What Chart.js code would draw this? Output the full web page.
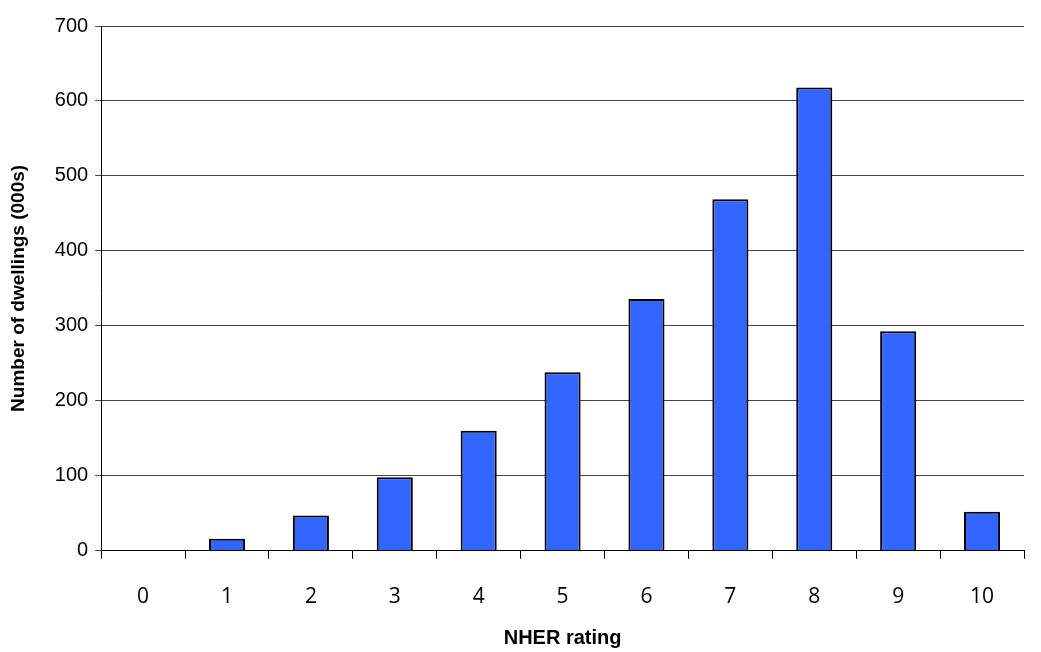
<!DOCTYPE html>
<html>
<head>
<meta charset="utf-8">
<script src="https://cdn.jsdelivr.net/npm/chart.js@4/dist/chart.umd.min.js"></script>
<style>
  html, body { margin: 0; padding: 0; background: #fff; }
  #wrap { width: 1041px; height: 652px; }
</style>
</head>
<body>
<div id="wrap"><canvas id="chartNher" width="1041" height="652"></canvas></div>
<script>
  /* NHER rating vs dwellings */
  var ratings = ['0', '1', '2', '3', '4', '5', '6', '7', '8', '9', '10'];
  var dwellings = [0, 16, 47, 98, 160, 238, 336, 469, 618, 293, 52];
  var yTicks = [0, 100, 200, 300, 400, 500, 600, 700];

  var ctx = document.getElementById('chartNher').getContext('2d');
  var chartNher = new Chart(ctx, {
    type: 'bar',
    data: {
      labels: ratings,
      datasets: [
        {
          data: dwellings,
          backgroundColor: '#3366ff',
          borderColor: '#000000',
          borderWidth: 2,
          borderSkipped: 'bottom',
          barPercentage: 0.43,
          categoryPercentage: 1,
        },
      ],
    },
    options: {
      responsive: false,
      animation: false,
      layout: { padding: { top: 26, right: 17, left: 4, bottom: 2 } },
      plugins: {
        legend: { display: false },
        tooltip: { enabled: false },
      },
      scales: {
        x: {
          offset: true,
          grid: {
            offset: true,
            drawOnChartArea: false,
            drawTicks: true,
            tickLength: 8,
            color: '#000',
          },
          border: { color: '#000', width: 1 },
          ticks: {
            color: '#000',
            font: { family: 'Open Sans', size: 21 },
            padding: 26,
          },
          title: {
            display: true,
            text: 'NHER rating',
            color: '#000',
            font: { family: 'Liberation Sans', size: 20, weight: 'bold' },
            padding: { top: -10, bottom: 0 },
          },
        },
        y: {
          min: 0,
          max: 700,
          afterBuildTicks: (axis) => {
            axis.ticks = yTicks.map((v) => ({ value: v }));
          },
          grid: {
            color: '#444',
            tickLength: 6,
          },
          border: { color: '#000', width: 1 },
          ticks: {
            color: '#000',
            font: { family: 'Liberation Sans', size: 20 },
            padding: 7,
          },
          title: {
            display: true,
            text: 'Number of dwellings (000s)',
            color: '#000',
            font: { family: 'Liberation Sans', size: 19, weight: 'bold' },
            padding: { top: 3, bottom: 18 },
          },
        },
      },
    },
  });
</script>
</body>
</html>
